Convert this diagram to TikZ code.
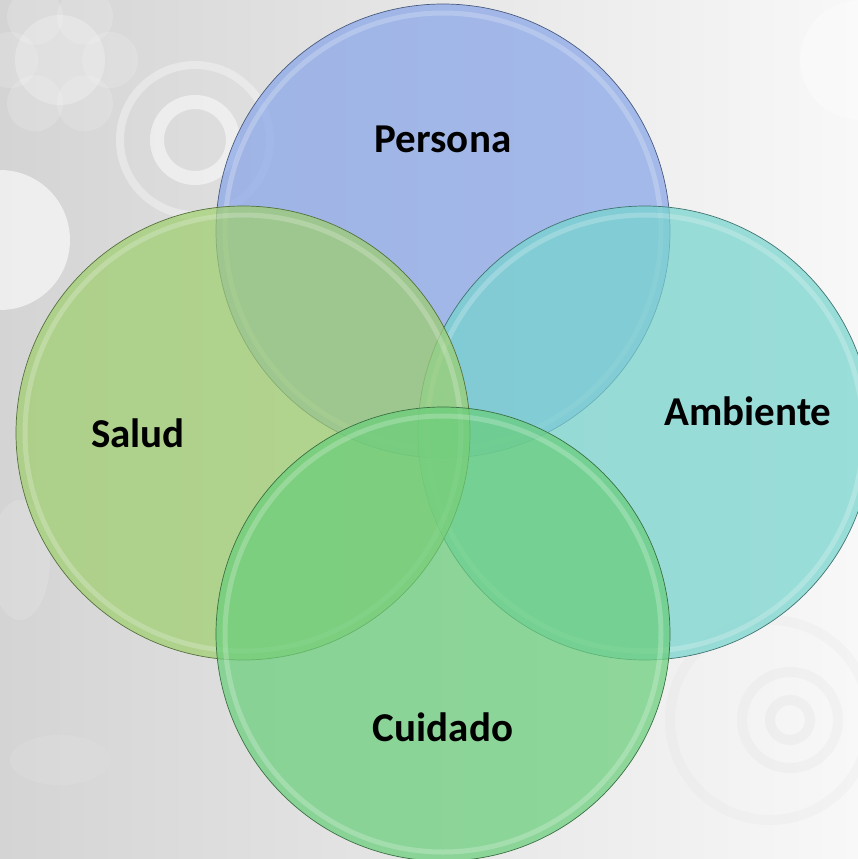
\documentclass[tikz,border=0pt]{standalone}
\usepackage{fontspec}
\setmainfont{Carlito}
\begin{document}
\begin{tikzpicture}[x=1pt,y=-1pt,
  venn/.style={circle, minimum size=454pt, inner sep=0pt, fill opacity=0.72, line width=0.7pt},
  hilite/.style={circle, minimum size=436pt, inner sep=0pt, draw=white, draw opacity=0.22, line width=5pt},
  lbl/.style={font=\fontsize{41}{49}\bfseries\selectfont, text=black, inner sep=0pt},
  deco/.style={draw=white, line width=14pt, draw opacity=0.5},
  decog/.style={draw=black!12, line width=10pt}]
\definecolor{cPer}{RGB}{135,165,232}
\definecolor{cAmb}{RGB}{118,212,206}
\definecolor{cSal}{RGB}{158,206,110}
\definecolor{cCui}{RGB}{105,206,122}
\useasboundingbox (0,0) rectangle (858,859);
\begin{scope}
\clip (0,0) rectangle (858,859);
\shade[left color={rgb,255:red,212;green,212;blue,212}, right color={rgb,255:red,248;green,248;blue,248}] (0,0) rectangle (858,859);
% floral background hints
\fill[white, opacity=0.25] (60,60) circle (45);
\foreach \a in {0,60,...,300} {\fill[white, opacity=0.15] (60,60) ++(\a:50) circle (28);}
\draw[deco] (195,140) circle (38);
\draw[white, line width=8pt, opacity=0.35] (195,140) circle (75);
\fill[white, opacity=0.6] (0,240) circle (70);
\fill[white, opacity=0.35] (860,60) circle (60);
\draw[decog, draw opacity=0.3] (790,720) circle (20);
\draw[decog, draw opacity=0.25] (790,720) circle (48);
\draw[decog, draw opacity=0.2] (770,720) circle (100);
\fill[black!12, opacity=0.35] (60,760) ellipse (50 and 25);
\fill[black!10, opacity=0.35] (20,560) ellipse (30 and 60);
\end{scope}
% circles
\node[venn, fill=cPer, draw=cPer!55!black] (persona) at (443,231) {};
\node[hilite] (perH) at (persona.center) {};
\node[venn, fill=cAmb, draw=cAmb!55!black] (ambiente) at (645,433) {};
\node[hilite] (ambH) at (ambiente.center) {};
\node[venn, fill=cSal, draw=cSal!55!black] (salud) at (243,433) {};
\node[hilite] (salH) at (salud.center) {};
\node[venn, fill=cCui, draw=cCui!55!black] (cuidado) at (443,634) {};
\node[hilite] (cuiH) at (cuidado.center) {};
% labels
\node[lbl] (tPer) at (443,139) {Persona};
\node[lbl] (tAmb) at (748,411) {Ambiente};
\node[lbl] (tSal) at (138,433) {Salud};
\node[lbl] (tCui) at (443,727) {Cuidado};
\end{tikzpicture}
\end{document}
